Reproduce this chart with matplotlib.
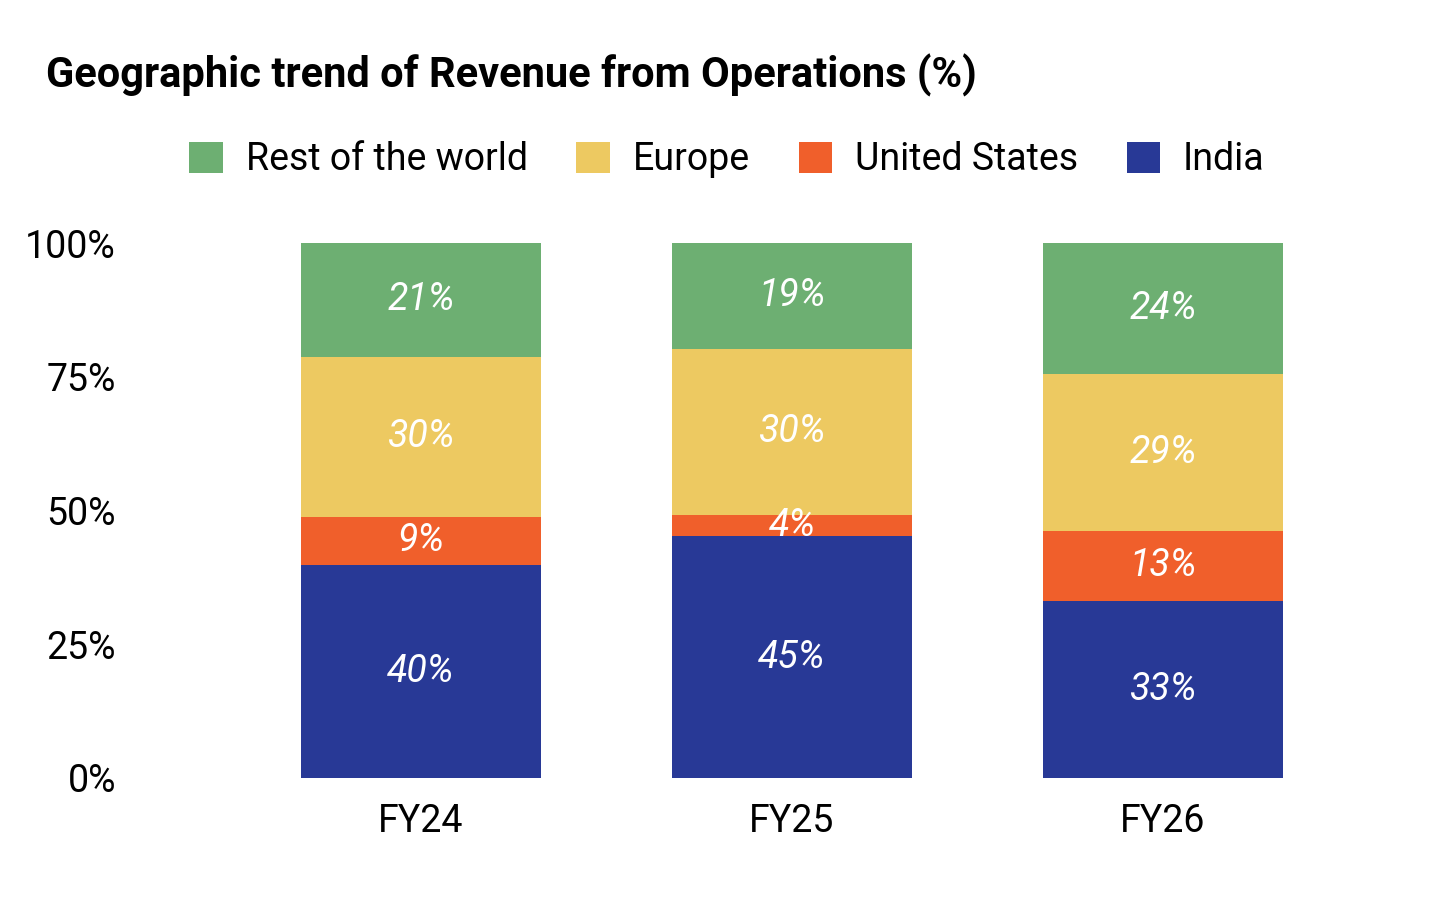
import matplotlib
matplotlib.use("Agg")
import matplotlib.pyplot as plt
import numpy as np

plt.rcParams['font.family'] = ['Roboto', 'DejaVu Sans']

years = ["FY24", "FY25", "FY26"]
series = ["India", "United States", "Europe", "Rest of the world"]
india = [39.8, 45.2, 33.1]
us = [9.0, 4.0, 13.1]
europe = [29.9, 31.0, 29.3]
row = [21.3, 19.8, 24.5]
labels = {
    "India": ["40%", "45%", "33%"],
    "United States": ["9%", "4%", "13%"],
    "Europe": ["30%", "30%", "29%"],
    "Rest of the world": ["21%", "19%", "24%"],
}
colors = {"India": "#283996", "United States": "#f05f2b",
          "Europe": "#edc961", "Rest of the world": "#6daf72"}

fig = plt.figure(figsize=(14.56, 9), dpi=100)
W, H = 1456, 900
ax = fig.add_axes([235.5 / W, 1 - 778 / H, 1113 / W, 535 / H])
x = np.arange(len(years))
bottom = np.zeros(3)
handles = {}
for name, vals in zip(series, [india, us, europe, row]):
    vals = np.array(vals)
    b = ax.bar(x, vals, 0.647, bottom=bottom, color=colors[name], label=name)
    handles[name] = b
    for i in range(3):
        ax.text(x[i], bottom[i] + vals[i] / 2, labels[name][i], ha='center', va='center',
                color='white', fontsize=27, style='italic')
    bottom += vals

ax.set_xlim(-0.5, 2.5)
ax.set_ylim(0, 100)
ax.set_yticks([0, 25, 50, 75, 100])
ax.set_yticklabels(["0%", "25%", "50%", "75%", "100%"], fontsize=27)
ax.set_xticks(x)
ax.set_xticklabels(years, fontsize=27)
ax.tick_params(length=0)
ax.tick_params(axis='y', pad=86)
ax.tick_params(axis='x', pad=18)
for s in ax.spines.values():
    s.set_visible(False)

fig.text(46 / W, 1 - 75 / H, "Geographic trend of Revenue from Operations (%)",
         fontsize=30, fontweight='bold', va='center', ha='left')
order = ["Rest of the world", "Europe", "United States", "India"]
fig.legend([handles[n] for n in order], order, loc='center', bbox_to_anchor=(727 / W, 1 - 160 / H),
           ncol=4, frameon=False, fontsize=27, handlelength=0.9, handleheight=0.9,
           columnspacing=1.3, handletextpad=0.6)
fig.savefig("out.png", dpi=100, facecolor='white')
